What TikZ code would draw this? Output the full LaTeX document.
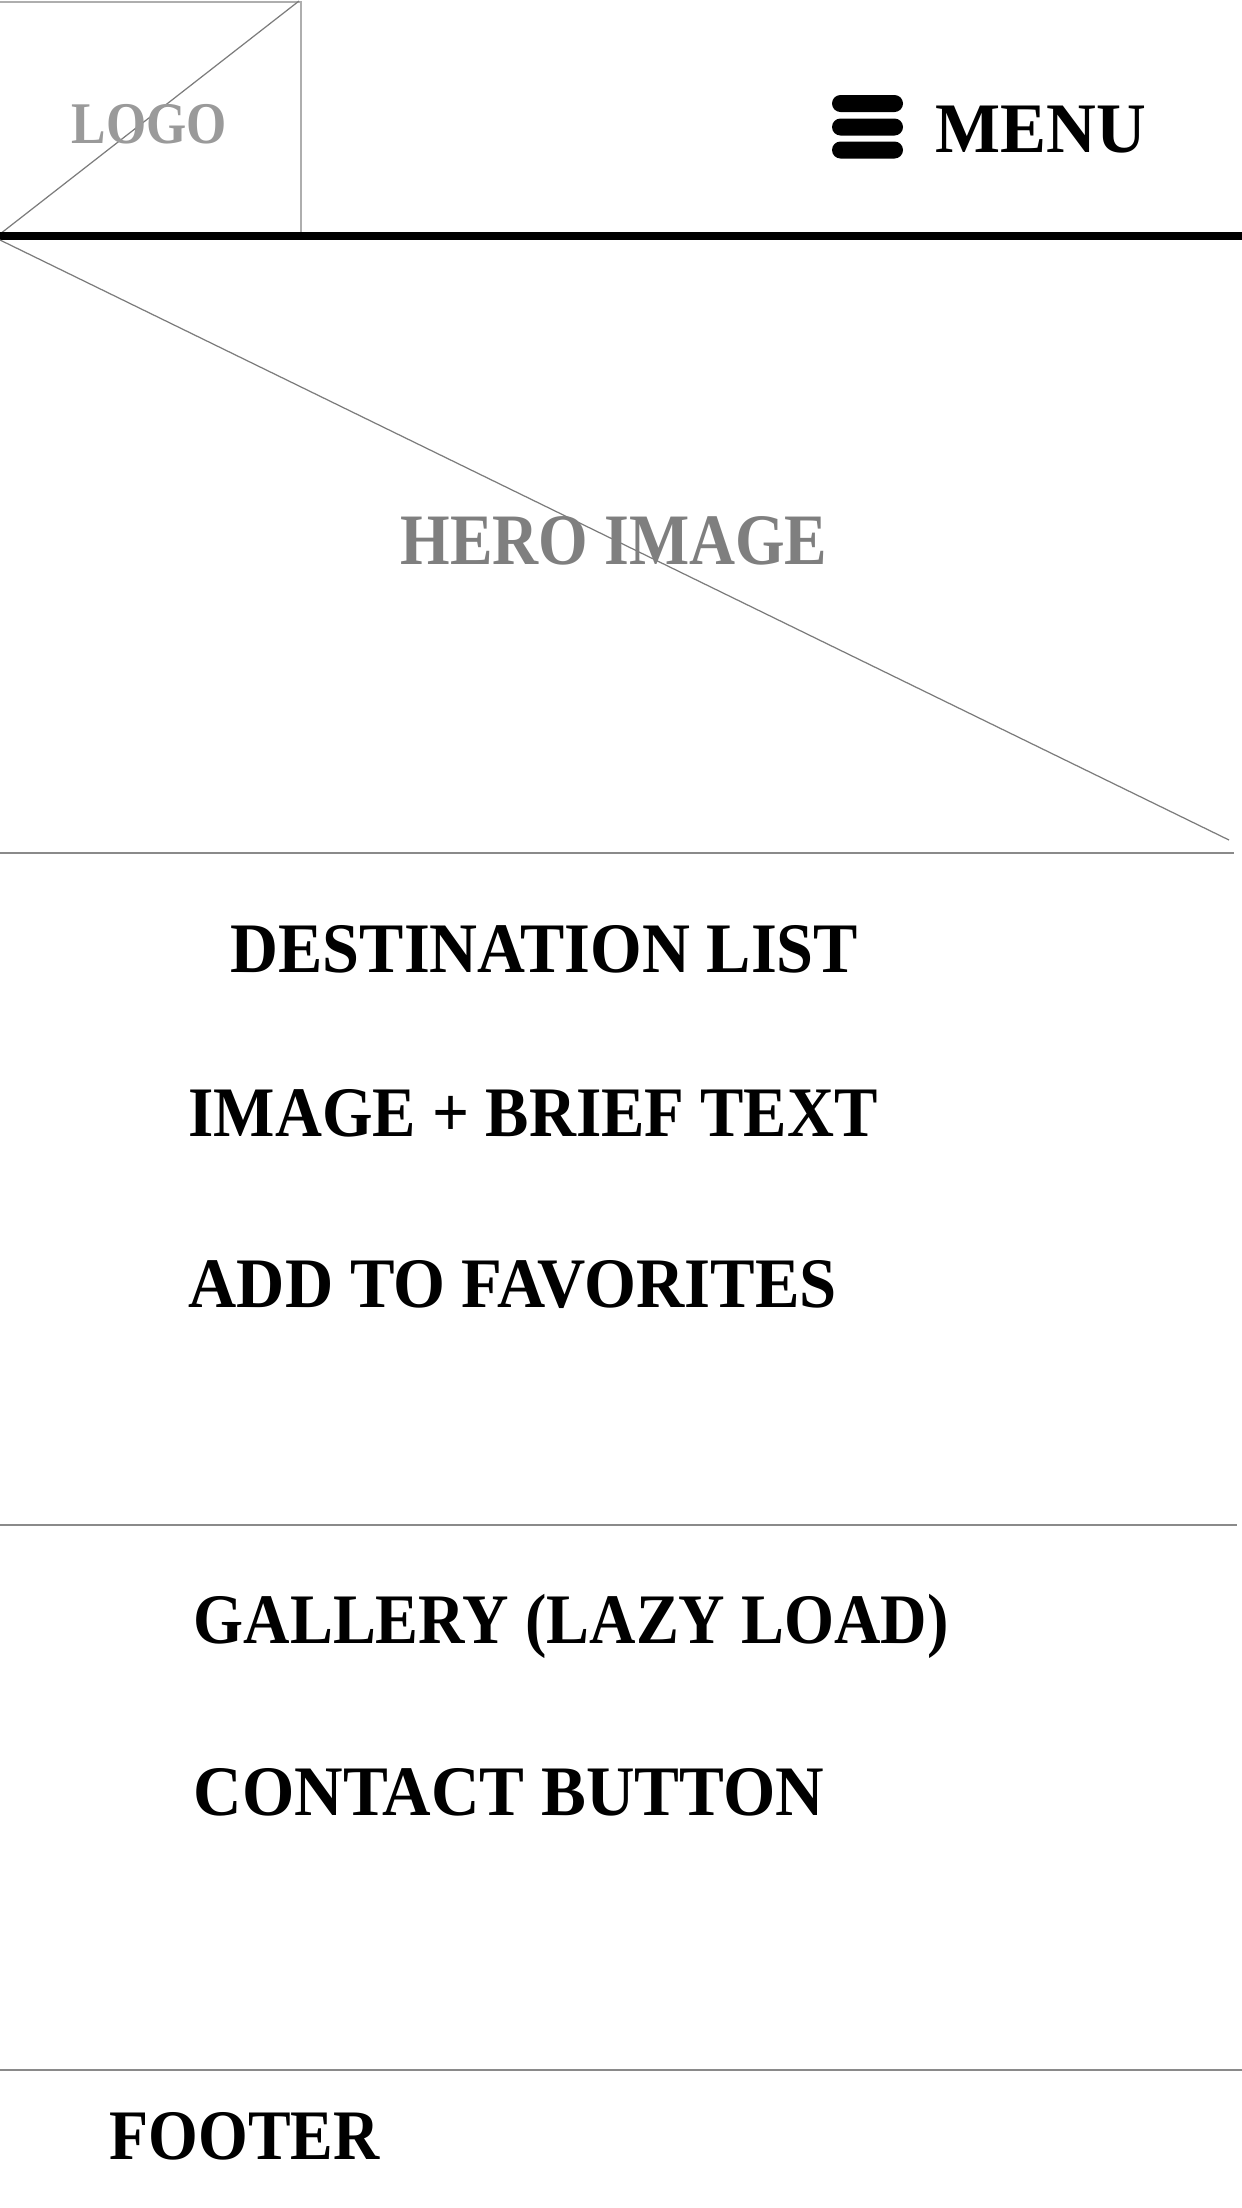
\documentclass[tikz,border=0pt]{standalone}
\usepackage{fontspec}
\setmainfont{Liberation Serif}
\usepackage{graphicx}
\usetikzlibrary{positioning}

\definecolor{logogrey}{HTML}{9A9A9A}
\definecolor{herogrey}{HTML}{7F7F7F}
\definecolor{rulegrey}{HTML}{8A8A8A}

\newcommand{\narrow}[2][0.915]{\scalebox{#1}[1]{#2}}

\tikzset{
  section/.style={anchor=base west, inner sep=0pt, font=\fontsize{20.2}{24}\selectfont\bfseries},
  thinrule/.style={draw=rulegrey, line width=0.4pt},
  crossline/.style={draw=rulegrey!90!black, line width=0.35pt},
}

\begin{document}
\begin{tikzpicture}[x=0.01cm, y=-0.01cm]
    \useasboundingbox (0,0) rectangle (1242,2208);

    % header: logo placeholder and menu
    \draw[draw=logogrey!80, line width=0.3pt] (0,2) -- (301,2) -- (301,234);
    \draw[crossline] (0,234) -- (299,1);
    \node[section, text=logogrey, font=\fontsize{16.8}{20}\selectfont\bfseries] (logo) at (71,143) {\narrow[0.875]{LOGO}};

    \foreach \y in {103.5,127,150}
      {
        \fill[rounded corners=0.085cm] (832,\y-8.5) rectangle (903,\y+8.5);
      }
    \node[section] (menu) at (935,152) {\narrow[0.97]{MENU}};
    \draw[line width=2.3pt] (0,236) -- (1242,236);

    % hero
    \draw[crossline] (0,240) -- (1229,840);
    \node[section, text=herogrey, font=\fontsize{20.6}{24}\selectfont\bfseries] (hero) at (400,564) {\narrow[0.88]{HERO IMAGE}};
    \draw[thinrule] (0,853) -- (1234,853);

    \node[section] (destinations) at (230,972) {\narrow[0.934]{DESTINATION LIST}};
    \node[section] (brief) at (188,1136) {\narrow{IMAGE + BRIEF TEXT}};
    \node[section] (favorites) at (188,1307) {\narrow[0.94]{ADD TO FAVORITES}};
    \draw[thinrule] (0,1525) -- (1237,1525);

    \node[section] (gallery) at (193,1643) {\narrow[0.905]{GALLERY (LAZY LOAD)}};
    \node[section] (contact) at (193,1815) {\narrow[0.946]{CONTACT BUTTON}};
    \draw[thinrule] (0,2070) -- (1242,2070);

    \node[section] (footer) at (109,2159) {\narrow[0.9]{FOOTER}};
\end{tikzpicture}
\end{document}
